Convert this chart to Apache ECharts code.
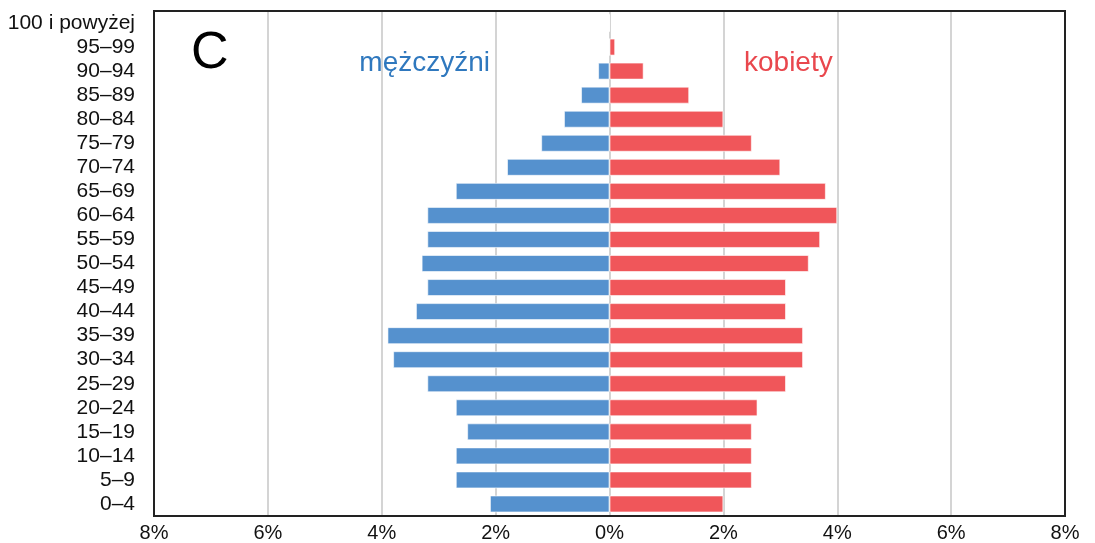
<!DOCTYPE html>
<html>
<head>
<meta charset="utf-8">
<script src="https://cdn.jsdelivr.net/npm/echarts@6/dist/echarts.min.js"></script>
<style>html,body{margin:0;padding:0;background:#fff}#c{width:1095px;height:543px}</style>
</head>
<body>
<div id="c"></div>
<script>
const categories = ['0–4','5–9','10–14','15–19','20–24','25–29','30–34','35–39','40–44','45–49','50–54','55–59','60–64','65–69','70–74','75–79','80–84','85–89','90–94','95–99','100 i powyżej'];
const men =   [2.1, 2.7, 2.7, 2.5, 2.7, 3.2, 3.8, 3.9, 3.4, 3.2, 3.3, 3.2, 3.2, 2.7, 1.8, 1.2, 0.8, 0.5, 0.2, 0.0, 0.0];
const women = [2.0, 2.5, 2.5, 2.5, 2.6, 3.1, 3.4, 3.4, 3.1, 3.1, 3.5, 3.7, 4.0, 3.8, 3.0, 2.5, 2.0, 1.4, 0.6, 0.1, 0.0];
const xTicks = [-8, -6, -4, -2, 0, 2, 4, 6, 8];

const chart = echarts.init(document.getElementById('c'));
const font = 'Liberation Sans, Arial, sans-serif';
chart.setOption({
  animation: false,
  grid: { left: 154, right: 30, top: 11, bottom: 27, show: true, borderColor: '#222', borderWidth: 2, backgroundColor: 'transparent', z: 10 },
  xAxis: {
    type: 'value', min: xTicks[0], max: xTicks[xTicks.length - 1], interval: 2,
    axisLine: { show: false }, axisTick: { show: false },
    splitLine: { show: true, lineStyle: { color: '#d4d4d4', width: 2 } },
    axisLabel: { color: '#111', fontSize: 20, fontFamily: font, margin: 7, formatter: v => Math.abs(v) + '%' }
  },
  yAxis: {
    type: 'category', data: categories,
    axisLine: { show: false }, axisTick: { show: false },
    axisLabel: { color: '#111', fontSize: 21, fontFamily: font, margin: 19, interval: 0 }
  },
  series: [
    { name: 'mężczyźni', type: 'bar', data: men.map(v => -v), barWidth: 17, barGap: '-100%',
      itemStyle: { color: '#5591CE', borderColor: 'rgba(255,255,255,0.6)', borderWidth: 1 } },
    { name: 'kobiety', type: 'bar', data: women, barWidth: 17,
      itemStyle: { color: '#F0565A', borderColor: 'rgba(255,255,255,0.6)', borderWidth: 1 } }
  ],
  graphic: [
    { type: 'text', left: 191, top: 28, style: { text: 'C', font: '52px ' + font, fill: '#000' } },
    { type: 'text', right: 1095 - 490, top: 49, style: { text: 'mężczyźni', font: '28px ' + font, fill: '#2F78BE' } },
    { type: 'text', left: 744, top: 49, style: { text: 'kobiety', font: '28px ' + font, fill: '#E9474D' } }
  ]
});
</script>
</body>
</html>
